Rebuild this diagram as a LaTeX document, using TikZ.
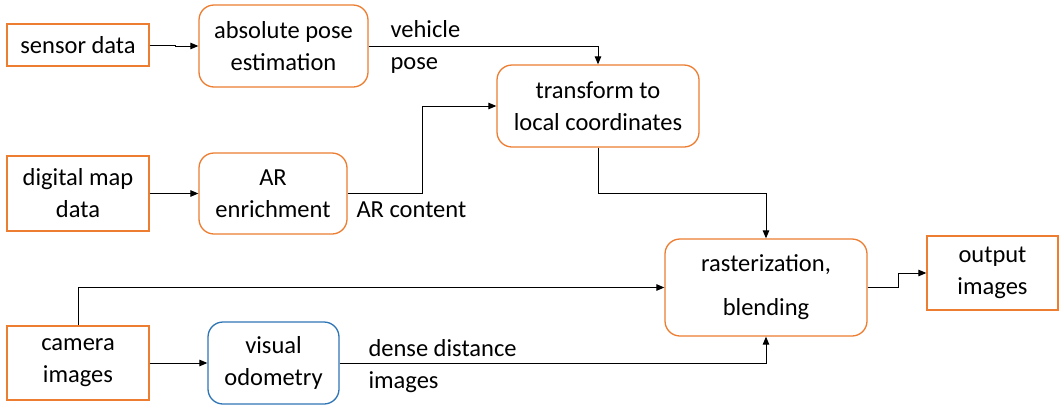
\documentclass[tikz,border=0pt]{standalone}
\usepackage{fontspec}
\setmainfont{Carlito}
\usepackage{xcolor}
\usetikzlibrary{arrows.meta}

\definecolor{boxorange}{RGB}{237,125,49}
\definecolor{boxblue}{RGB}{46,117,182}

\begin{document}
\begin{tikzpicture}[
  x=1pt, y=-1pt,
  font=\fontsize{24.5}{32}\selectfont,
  line width=1pt,
  src/.style={draw=boxorange, line width=1.3pt, align=center, inner sep=0pt,
              minimum width=142pt},
  p/.style={src, rounded corners=15pt},
  vp/.style={p, draw=boxblue},
  lbl/.style={align=left, inner sep=0pt},
  >={Triangle[length=8pt,width=6.5pt]}
]
\useasboundingbox (0,0) rectangle (1063,405);

\node[src, minimum height=42pt] (sensor) at (78,45) {sensor data};
\node[p, minimum width=169pt, minimum height=82pt] (pose) at (283.5,46) {absolute pose\\estimation};
\node[p, minimum width=202pt, minimum height=82pt] (trans) at (598,106) {transform to\\local coordinates};
\node[src, minimum height=75pt] (map) at (78,193.5) {digital map\\data};
\node[p, minimum width=148pt, minimum height=81pt] (ar) at (273,193.5) {AR\\enrichment};
\node[p, minimum width=202pt, minimum height=97pt] (raster) at (766,287.5) {rasterization,\\[12pt]blending};
\node[src, minimum width=131pt, minimum height=74pt] (out) at (992.5,273) {output\\images};
\node[src, minimum height=74pt] (cam) at (78,363) {camera\\images};
\node[vp, minimum width=131pt, minimum height=82pt] (vo) at (273.5,363) {visual\\odometry};

\node[lbl, anchor=west] (vpose) at (390,47) {vehicle\\pose};
\node[lbl, anchor=base west] (arcont) at (356,217) {AR content};
\node[lbl, anchor=west] (dense) at (368,366) {dense distance\\images};

\draw[->] (sensor.east) -- ++(26,0) |- (pose.west);
\draw[->] (map.east) -- (ar.west);
\draw[->] (cam.east) -- (vo.west);

\draw[->] (pose.east) -| (trans.north);
\draw[->] (ar.east) -- ++(75,0) |- (trans.west);
\draw[->] (trans.south) -- ++(0,46) -| (raster.north);

% camera images straight to blending
\draw[->] (cam.north) |- (raster.west);
\draw[->] (vo.east) -| (raster.south);
\draw[->] (raster.east) -- ++(31,0) |- (out.west);
\end{tikzpicture}
\end{document}
